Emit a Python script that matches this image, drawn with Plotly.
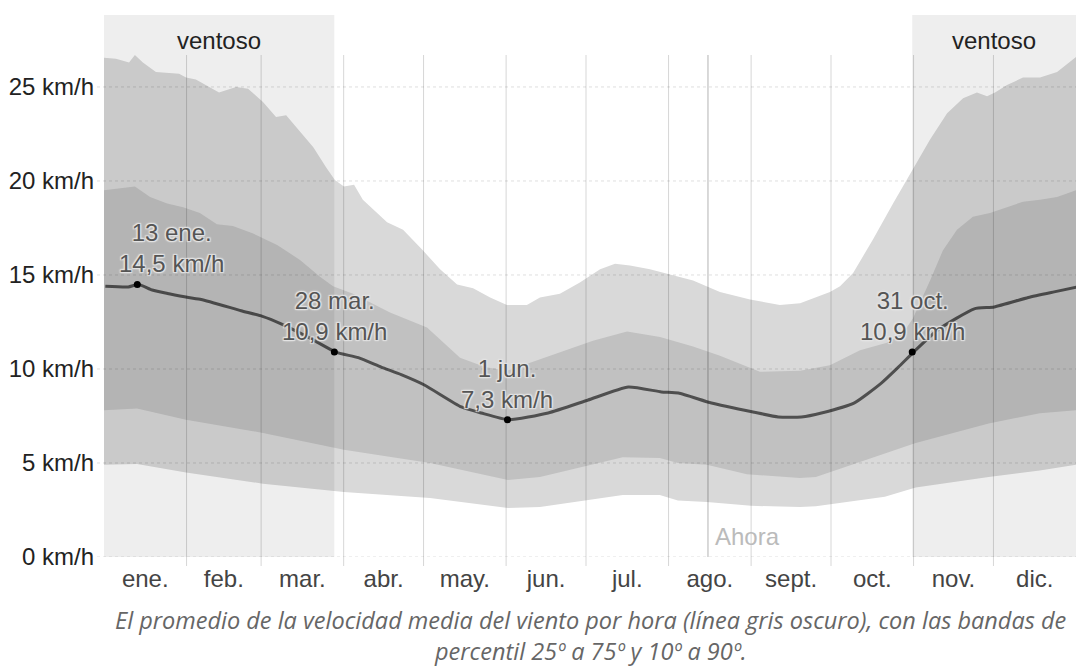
import plotly.graph_objects as go

# ---- month axis -----------------------------------------------------------
MONTH_LABELS = ["ene.", "feb.", "mar.", "abr.", "may.", "jun.", "jul.",
                "ago.", "sept.", "oct.", "nov.", "dic."]
MONTH_STARTS = [0, 31, 59, 90, 120, 151, 181, 212, 243, 273, 304, 334, 365]

# ---- wind speed (km/h) by day of year ------------------------------------
# 90th percentile
p90_days = [0, 4.5, 9.4, 11.6, 14.6, 19.5, 28.2, 30.8, 34.5, 39.4, 43.2, 49.6,
            54.1, 59.7, 64.6, 68.4, 73.3, 78.6, 83.5, 86.7, 90.1, 93.9, 97.2,
            106.3, 112.3, 119.8, 126.2, 132.6, 138.6, 145, 151.3, 158.8, 163.7,
            171.2, 178.7, 186.3, 191.9, 197.5, 205, 221.2, 231.3, 242.6, 253.8,
            261.4, 272.6, 276.4, 281.3, 288.8, 296.3, 303.8, 310.2, 316.6, 322.6,
            327.8, 331.6, 334.6, 339.1, 345.1, 351.5, 357.9, 365]
p90_vals = [26.55, 26.5, 26.3, 26.7, 26.3, 25.8, 25.7, 25.5, 25.4, 25.0, 24.7, 25.0,
            24.9, 24.2, 23.4, 23.5, 22.7, 21.8, 20.7, 20.05, 19.7, 19.8, 19.0,
            17.8, 17.4, 16.3, 15.3, 14.5, 14.3, 13.8, 13.4, 13.4, 13.8,
            14.0, 14.6, 15.3, 15.6, 15.5, 15.3, 14.7, 14.1, 13.7, 13.4,
            13.5, 14.1, 14.4, 15.1, 16.9, 18.8, 20.6, 22.2, 23.6, 24.4,
            24.7, 24.5, 24.7, 25.1, 25.5, 25.5, 25.8, 26.6]

# 75th percentile
p75_days = [0, 6, 11.6, 17.3, 23.7, 29.7, 36, 42.4, 48.4, 56, 65, 73.6, 81.1, 86,
            93.5, 107.4, 121.3, 133.7, 143.1, 151.3, 163.7, 183.6, 196.4, 208.8,
            221.2, 231.3, 246.3, 261.4, 272.6, 283.9, 294, 300, 303.8, 310.2, 315,
            320.3, 326.3, 332.7, 339.1, 345.1, 351.5, 357.9, 365]
p75_vals = [19.5, 19.6, 19.7, 19.15, 18.8, 18.6, 18.3, 17.7, 17.6, 17.2, 16.6, 15.8, 14.9, 14.4,
            14.0, 13.0, 12.2, 10.6, 10.1, 9.9, 10.5, 11.5, 12.0, 11.7,
            11.2, 10.7, 9.85, 9.9, 10.2, 11.0, 11.4, 11.9, 12.7, 14.7, 16.3,
            17.4, 18.1, 18.3, 18.6, 18.9, 19.0, 19.15, 19.5]

# 25th percentile
p25_days = [0, 12.4, 30.8, 59.7, 90.1, 122.4, 151.7, 163.7, 194.8, 208.7, 215.5,
            226.4, 241.4, 261.3, 267.3, 293.2, 304.8, 332.2, 351.4, 365]
p25_vals = [7.8, 7.9, 7.3, 6.6, 5.7, 5.0, 4.1, 4.25, 5.3, 5.27, 5.0,
            4.9, 4.4, 4.2, 4.25, 5.5, 6.06, 7.1, 7.65, 7.8]

# 10th percentile
p10_days = [0, 12.4, 30.8, 59.7, 90.1, 122.4, 151.7, 163.7, 194.8, 208.7, 215.5,
            226.4, 243, 261.3, 267.3, 293.2, 304.8, 332.2, 351.4, 365]
p10_vals = [4.9, 4.95, 4.5, 3.9, 3.46, 3.14, 2.6, 2.66, 3.3, 3.3, 3.0,
            2.93, 2.72, 2.66, 2.7, 3.2, 3.7, 4.25, 4.6, 4.9]

# hourly average wind speed
mean_days = [0, 8.6, 12.5, 17.6, 23.9, 31.2, 36, 51, 59, 66, 77.4, 86.5, 95, 103.6,
             111.1, 119.8, 133.7, 141.2, 151.5, 166.3, 181.3, 196.4, 208.8, 215.2,
             227.6, 243.7, 252.7, 261.4, 268.9, 281.3, 291.4, 297.8, 303.5, 312.8,
             326.3, 333.8, 346.6, 356.3, 365]
mean_vals = [14.4, 14.36, 14.5, 14.2, 14.0, 13.8, 13.7, 13.1, 12.8, 12.4, 11.6, 10.9, 10.6, 10.1,
             9.7, 9.15, 7.98, 7.66, 7.3, 7.66, 8.35, 9.04, 8.78, 8.72,
             8.19, 7.7, 7.45, 7.45, 7.66, 8.2, 9.25, 10.1, 10.9, 12.1,
             13.2, 13.3, 13.8, 14.1, 14.36]

# labelled points on the average line
label_days = [12, 86, 151, 303]
label_dates = ["13 ene.", "28 mar.", "1 jun.", "31 oct."]
label_vals = [14.5, 10.9, 7.3, 10.9]

# windy season(s) and the current day
windy_periods = [(0, 86.5), (303.5, 365)]
windy_label = "ventoso"
now_day = 226.8
now_label = "Ahora"

Y_TICKS = [0, 5, 10, 15, 20, 25]
Y_MAX = 26.7

CAPTION = [
    "El promedio de la velocidad media del viento por hora (línea gris oscuro), con las bandas de",
    "percentil 25º a 75º y 10º a 90º.",
]

SANS = "Arial, 'Liberation Sans', sans-serif"
FS = 24
PLOT_W, PLOT_H = 972, 502

fig = go.Figure()


def band(lo_d, lo_v, hi_d, hi_v, color):
    return go.Scatter(
        x=list(hi_d) + list(lo_d)[::-1],
        y=list(hi_v) + list(lo_v)[::-1],
        fill="toself", fillcolor=color, mode="lines", line=dict(width=0),
        hoverinfo="skip", showlegend=False,
    )


fig.add_trace(band(p10_days, p10_vals, p90_days, p90_vals, "#d9d9d9"))
fig.add_trace(band(p25_days, p25_vals, p75_days, p75_vals, "#c1c1c1"))

fig.add_trace(go.Scatter(
    x=[d + 0.5 for d in mean_days], y=mean_vals, mode="lines",
    line=dict(color="#4f4f4f", width=3, shape="spline", smoothing=0.5),
    showlegend=False, hoverinfo="skip",
))
fig.add_trace(go.Scatter(
    x=[d + 0.5 for d in label_days], y=label_vals, mode="markers",
    marker=dict(color="#000000", size=7), showlegend=False, hoverinfo="skip",
))

shapes = []
# windy season shading (extends above the plot area to hold its label)
for a, b in windy_periods:
    shapes.append(dict(type="rect", xref="x", yref="paper", x0=a, x1=b,
                       y0=0, y1=542 / PLOT_H, fillcolor="rgba(0,0,0,0.065)",
                       line=dict(width=0), layer="above"))
# month boundaries with short ticks under the axis
for m in MONTH_STARTS[1:-1]:
    shapes.append(dict(type="line", xref="x", yref="paper", x0=m, x1=m,
                       y0=-9 / PLOT_H, y1=1,
                       line=dict(color="rgba(0,0,0,0.16)", width=1), layer="above"))
# horizontal dotted grid
for v in Y_TICKS:
    shapes.append(dict(type="line", xref="paper", yref="y", x0=-7 / PLOT_W, x1=1,
                       y0=v, y1=v,
                       line=dict(color="rgba(0,0,0,0.13)", width=1, dash="dot"),
                       layer="above"))
# current day marker
shapes.append(dict(type="line", xref="x", yref="paper", x0=now_day, x1=now_day,
                   y0=0, y1=1, line=dict(color="rgba(0,0,0,0.3)", width=1),
                   layer="above"))

halo = ("1px 1px 1px #e4e4e4, -1px -1px 1px #e4e4e4, 1px -1px 1px #e4e4e4, "
        "-1px 1px 1px #e4e4e4, 0 0 3px #eeeeee")

annotations = []
for a, b in windy_periods:
    annotations.append(dict(x=(a + b) / 2, xref="x", y=(557 - 40) / PLOT_H, yref="paper",
                            text=windy_label, showarrow=False, yanchor="middle",
                            font=dict(family=SANS, size=FS, color="#222222")))

label_xshift = [34, 0, 0, 0]
for d, t, v, xs in zip(label_days, label_dates, label_vals, label_xshift):
    val_txt = f"{v:.1f}".replace(".", ",") + " km/h"
    annotations.append(dict(x=d + 0.5, y=v, xref="x", yref="y",
                            text=f"{t}<br>{val_txt}", showarrow=False,
                            yanchor="bottom", yshift=5, xshift=xs,
                            font=dict(family=SANS, size=FS, color="#555555", shadow=halo)))

annotations.append(dict(x=now_day, xref="x", y=(557 - 536) / PLOT_H, yref="paper",
                        text=now_label, showarrow=False, xanchor="left", xshift=5,
                        yanchor="middle",
                        font=dict(family=SANS, size=FS, color="#bbbbbb")))

caption_centers = [620, 651]
for line, yc in zip(CAPTION, caption_centers):
    annotations.append(dict(x=0.5, xref="paper", y=(557 - yc) / PLOT_H,
                            yref="paper", text=line, showarrow=False,
                            yanchor="middle", xanchor="center", borderpad=0,
                            font=dict(family="'Open Sans', sans-serif", size=23.5,
                                      color="#666666", style="italic")))

month_mid = [(MONTH_STARTS[i] + MONTH_STARTS[i + 1]) / 2 for i in range(12)]

fig.update_layout(
    width=1081, height=666,
    margin=dict(l=104, r=5, t=55, b=109),
    paper_bgcolor="#ffffff", plot_bgcolor="#ffffff",
    showlegend=False,
    shapes=shapes, annotations=annotations,
    xaxis=dict(range=[0, 365], tickvals=month_mid, ticktext=MONTH_LABELS,
               showgrid=False, zeroline=False, showline=False, ticks="",
               ticklabelstandoff=5,
               tickfont=dict(family=SANS, size=FS, color="#444444"), fixedrange=True),
    yaxis=dict(range=[0, Y_MAX], tickvals=Y_TICKS,
               ticktext=[f"{v} km/h" for v in Y_TICKS],
               showgrid=False, zeroline=False, showline=False, ticks="",
               ticklabelstandoff=9,
               tickfont=dict(family=SANS, size=FS, color="#222222"), fixedrange=True),
)

fig.write_html("out.html")
